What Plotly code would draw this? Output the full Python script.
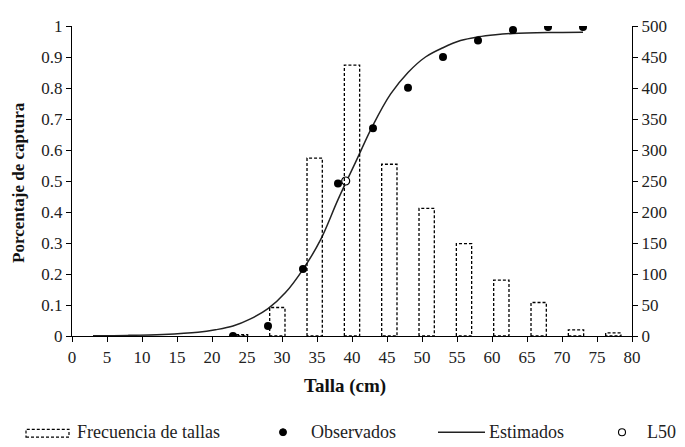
import plotly.graph_objects as go

# ---- data ----
# size-frequency histogram (15 length classes spanning 0-80 cm)
clases = list(range(15))
frecuencia = [0, 0, 0, 0, 2, 46, 287, 437, 277, 206, 149, 90, 54, 10, 5]

# observed retention proportions
obs_talla = [23, 28, 33, 38, 43, 48, 53, 58, 63, 68, 73]
obs_prop = [0.0, 0.032, 0.216, 0.492, 0.670, 0.801, 0.900, 0.953, 0.987, 0.997, 0.997]

# estimated selectivity curve
est_talla = [3, 8, 13, 18, 20.5, 23, 25.5, 28, 30.5, 33, 35.5, 38, 40.5, 43, 45.5, 48,
             50.5, 53, 55.5, 58, 60.5, 63, 68, 73]
est_prop = [0.001, 0.002, 0.005, 0.012, 0.020, 0.032, 0.055, 0.088, 0.140, 0.215, 0.310,
            0.440, 0.560, 0.680, 0.780, 0.850, 0.900, 0.930, 0.953, 0.965, 0.972, 0.976,
            0.979, 0.980]

# L50
l50_talla = [39.1]
l50_prop = [0.5]

x_ticks = list(range(0, 81, 5))
y_ticks = [round(v * 0.1, 1) for v in range(11)]
y2_ticks = list(range(0, 501, 50))

FONT = "Liberation Serif, Times New Roman, serif"
OFF = 8  # page body margin
W, H = 685 - OFF, 447 - OFF
ML, MT = 72 - OFF, 17 - OFF
PW, PH = 560, 319
MR = W - ML - PW
MB = H - MT - PH

fig = go.Figure()

# bars drawn as dashed outlines on a hidden class axis
half = 0.205
bx, by = [], []
for c, f in zip(clases, frecuencia):
    if f <= 0:
        continue
    bx += [c - half, c - half, c + half, c + half, c - half, None]
    by += [0, f, f, 0, 0, None]
fig.add_trace(go.Scatter(x=bx, y=by, xaxis="x2", yaxis="y2", mode="lines",
                         line=dict(color="black", width=1.3, dash="3px,2px"),
                         name="Frecuencia de tallas", showlegend=False, hoverinfo="skip"))

fig.add_trace(go.Scatter(x=est_talla, y=est_prop, mode="lines", line_shape="spline",
                         line=dict(color="#222", width=1.5), name="Estimados", showlegend=False))
fig.add_trace(go.Scatter(x=obs_talla, y=obs_prop, mode="markers",
                         marker=dict(color="black", size=8), name="Observados", showlegend=False))
fig.add_trace(go.Scatter(x=l50_talla, y=l50_prop, mode="markers",
                         marker=dict(color="white", size=8, line=dict(color="black", width=1.2)),
                         name="L50", showlegend=False))

axis_common = dict(showgrid=False, zeroline=False, showline=True, linecolor="black",
                   linewidth=1.2, ticks="outside", ticklen=5, tickcolor="black", tickwidth=1.2,
                   ticklabeloverflow="allow",
                   tickfont=dict(family=FONT, size=17, color="#222"))

fig.update_layout(
    width=W, height=H,
    margin=dict(l=ML, r=MR, t=MT, b=MB),
    paper_bgcolor="white", plot_bgcolor="white",
    xaxis=dict(range=[0, 80], tickvals=x_ticks, **axis_common),
    xaxis2=dict(range=[-0.5, 14.5], overlaying="x", visible=False),
    yaxis=dict(range=[0, 1], tickvals=y_ticks, **axis_common),
    yaxis2=dict(range=[0, 500], tickvals=y2_ticks, overlaying="y", side="right", **axis_common),
    showlegend=False,
)


def px(x):
    return (x - OFF - ML) / PW


def py(y):
    return (MT + PH - (y - OFF)) / PH


# axis titles (reference pixel positions)
fig.add_annotation(xref="paper", yref="paper", x=px(345), y=py(387), text="<b>Talla (cm)</b>",
                   showarrow=False, xanchor="center", yanchor="middle",
                   font=dict(family=FONT, size=19, color="#111"))
fig.add_annotation(xref="paper", yref="paper", x=px(OFF), y=py(178), text="<b>Porcentaje de captura</b>",
                   showarrow=False, xanchor="left", yanchor="middle", textangle=-90, borderpad=0,
                   font=dict(family=FONT, size=17, color="#111"))

LY = 435
# legend
fig.add_shape(type="rect", xref="paper", yref="paper", x0=px(26), x1=px(69), y0=py(440), y1=py(432),
              line=dict(color="black", width=1.2, dash="3px,2px"), fillcolor="white")
fig.add_shape(type="circle", xref="paper", yref="paper", xsizemode="pixel", ysizemode="pixel",
              xanchor=px(283), yanchor=py(LY), x0=-3.5, x1=3.5, y0=-3.5, y1=3.5,
              fillcolor="black", line=dict(color="black", width=1))
fig.add_shape(type="line", xref="paper", yref="paper", x0=px(438), x1=px(485), y0=py(LY), y1=py(LY),
              line=dict(color="#222", width=1.5))
fig.add_shape(type="circle", xref="paper", yref="paper", xsizemode="pixel", ysizemode="pixel",
              xanchor=px(622), yanchor=py(LY), x0=-3.5, x1=3.5, y0=-3.5, y1=3.5,
              fillcolor="white", line=dict(color="black", width=1.1))
for xt, txt in [(75, "Frecuencia de tallas"), (309, "Observados"), (487, "Estimados"), (645, "L50")]:
    fig.add_annotation(xref="paper", yref="paper", x=px(xt), y=py(LY), text=txt, showarrow=False,
                       xanchor="left", yanchor="middle",
                       font=dict(family=FONT, size=18, color="#222"))

fig.write_html("out.html")
